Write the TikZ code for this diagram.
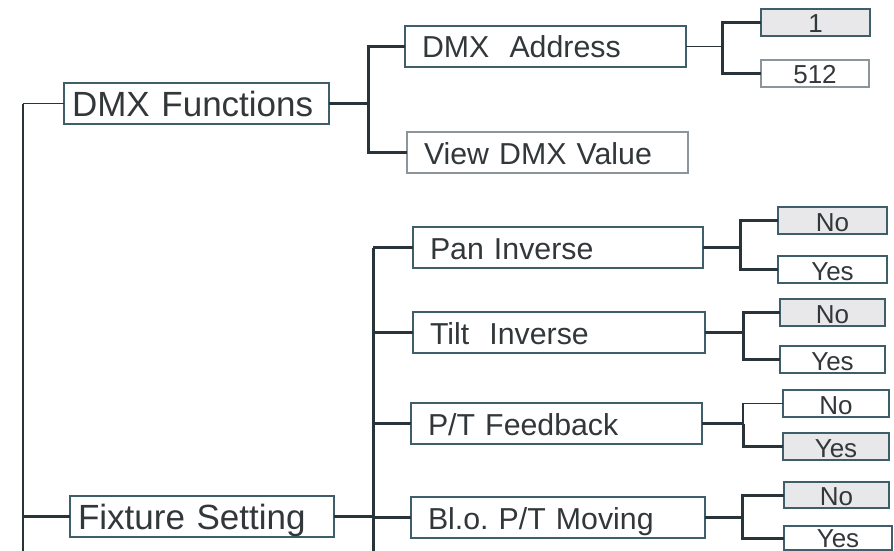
\documentclass[tikz,border=0pt]{standalone}
\usepackage{fontspec}
\setmainfont{Liberation Sans}
\usetikzlibrary{positioning}
\frenchspacing

\definecolor{boxline}{RGB}{62,94,106}
\definecolor{paleline}{RGB}{140,150,154}
\definecolor{wirecol}{RGB}{40,52,58}
\definecolor{pick}{RGB}{232,232,234}
\definecolor{ink}{RGB}{50,55,58}

\begin{document}
\begin{tikzpicture}[x=1pt,y=-1pt,
  menu/.style={draw=boxline,line width=1.5pt,rectangle,anchor=north west,outer sep=0pt,inner ysep=0pt,align=left,text=ink},
  topmenu/.style={menu,font=\fontsize{35}{35}\selectfont,text height=33pt,text depth=8pt,inner xsep=8pt},
  submenu/.style={menu,font=\fontsize{30.3}{30}\selectfont,text height=32pt,text depth=9pt,inner xsep=17pt},
  opt/.style={menu,font=\fontsize{26}{26}\selectfont,text height=24pt,text depth=3pt,align=center,inner xsep=0pt},
  sel/.style={opt,fill=pick},
  wire/.style={draw=wirecol,line width=3pt},
  twig/.style={draw=wirecol,line width=1.7pt}]
  \useasboundingbox (0,0) rectangle (894,551);
  \clip (0,0) rectangle (894,551);

  % Create nodes
  \node[topmenu,text width=249pt] (dmxfn) at (64,83) {DMX Functions};
  \node[topmenu,text width=248pt] (fixset) at (70,496) {Fixture Setting};

  \node[submenu,text width=247pt] (dmxaddr) at (405,26) {DMX\ \ Address};
  \node[submenu,text width=247pt,draw=paleline] (viewdmx) at (407,132) {View DMX Value};
  \node[submenu,text width=256pt] (pan) at (413,227) {Pan Inverse};
  \node[submenu,text width=258pt] (tilt) at (413,312) {Tilt\ \ Inverse};
  \node[submenu,text width=257pt] (feedback) at (411,403) {P/T Feedback};
  \node[submenu,text width=260pt] (moving) at (411,497) {Bl.o. P/T Moving};

  \node[sel,text width=109pt] (addrLo) at (761,9) {1};
  \node[opt,text width=108pt,draw=paleline] (addrHi) at (761,60) {512};
  \node[sel,text width=109pt] (panNo) at (778,207) {No};
  \node[opt,text width=109pt] (panYes) [below = 22pt of panNo.south west,anchor=north west] {Yes};
  \node[sel,text width=105pt] (tiltNo) at (780,299) {No};
  \node[opt,text width=105pt] (tiltYes) [below = 20pt of tiltNo.south west,anchor=north west] {Yes};
  \node[opt,text width=106pt] (fbNo) at (783,390) {No};
  \node[sel,text width=106pt] (fbYes) [below = 16pt of fbNo.south west,anchor=north west] {Yes};
  \node[sel,text width=105pt,text height=23pt] (mvNo) at (784,482) {No};
  \node[opt,text width=108pt,text height=21pt] (mvYes) at (784,526) {Yes};

  \coordinate (root) at (23,103.5);
  \coordinate (rootEnd) at (23,560);
  \coordinate (trunkEnd) at (373,560);

  % Main trunk
  \draw[twig] (root) -- (rootEnd);
  \draw[twig] (root) -- (dmxfn.west);
  \draw[wire] (rootEnd |- fixset.west) -- (fixset.west);

  % DMX functions
  \draw[wire] (dmxfn.east) -- ++(39,0) |- (dmxaddr.west);
  \draw[wire] (dmxfn.east) -- ++(39,0) |- (viewdmx.west);
  \draw[twig] (dmxaddr.east) -- ++(36,0) coordinate (fa);
  \draw[wire] (addrLo.west) -| (fa) |- (addrHi.west);

  % Fixture setting
  \draw[wire] (fixset.east) -- ++(39,0) coordinate (fs);
  \draw[wire] (fs |- pan.west) -- (trunkEnd);
  \foreach \n in {pan,tilt,feedback,moving}
    \draw[wire] (fs |- \n.west) -- (\n.west);

  \draw[wire] (pan.east) -- ++(37,0) coordinate (fp);
  \draw[wire] (panNo.west) -| (fp) |- (panYes.west);
  \draw[wire] (tilt.east) -- ++(38,0) coordinate (ft);
  \draw[wire] (tiltNo.west) -| (ft) |- (tiltYes.west);
  \draw[wire] (feedback.east) -- ++(41,0) coordinate (ff);
  \draw[twig] (fbNo.west) -| (ff);
  \draw[wire] (ff) |- (fbYes.west);
  \draw[wire] (moving.east) -- ++(37,0) coordinate (fm);
  \draw[wire] (mvNo.west) -| (fm) |- (mvYes.west);
\end{tikzpicture}
\end{document}
